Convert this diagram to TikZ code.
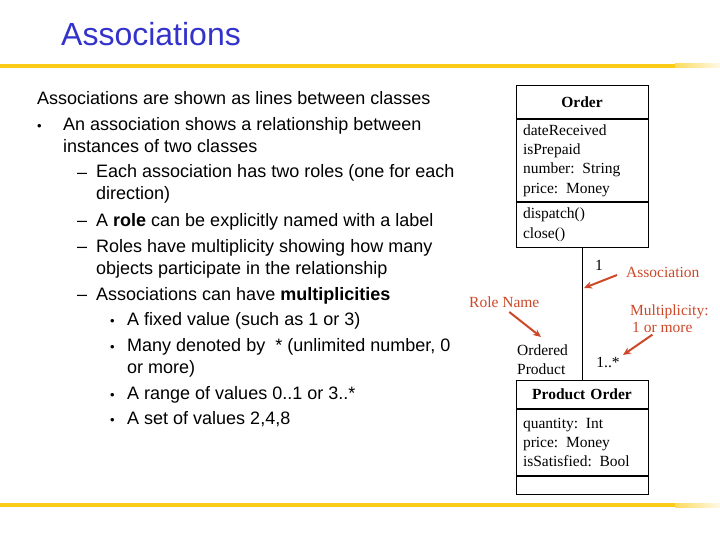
\documentclass[tikz,border=0pt]{standalone}
\usepackage{fontspec}
\setmainfont{Liberation Serif}
\newfontfamily\slidefont{Liberation Sans}
\usetikzlibrary{arrows.meta,positioning}

\definecolor{titleblue}{RGB}{51,51,204}
\definecolor{rulegold}{RGB}{250,204,24}
\definecolor{notered}{RGB}{204,72,40}

\tikzset{
  body/.style={anchor=base west, inner sep=0pt, align=left,
    font=\slidefont\fontsize{18}{22}\selectfont},
  mark1/.style={anchor=base west, inner sep=0pt, font=\slidefont\fontsize{13}{22}\selectfont},
  classpart/.style={draw, line width=0.9pt, anchor=north, minimum width=132pt,
    text width=118pt, inner xsep=7pt, inner ysep=0pt, align=left,
    font=\fontsize{15.5}{19.3}\selectfont},
  classname/.style={classpart, align=center, font=\bfseries\fontsize{15.5}{18}\selectfont},
  note/.style={anchor=west, inner sep=0pt, align=left, text=notered,
    font=\fontsize{15.5}{17}\selectfont},
  pointer/.style={->, notered, line width=2pt},
}

\begin{document}
\begin{tikzpicture}[x=1pt, y=-1pt, >={Stealth[length=8pt,width=7pt]}]
    \useasboundingbox (0,0) rectangle (720,540);

    % title and rules
    \node[anchor=base west, inner sep=0pt, text=titleblue,
          font=\slidefont\fontsize{32}{36}\selectfont] (title) at (61,46) {Associations};
    \fill[rulegold] (0,64) rectangle (675,68);
    \fill[left color=rulegold!70, right color=rulegold!10] (675,64) rectangle (720,68);
    \fill[rulegold] (0,503) rectangle (675,507);
    \fill[left color=rulegold!70, right color=rulegold!10] (675,503) rectangle (720,507);

    % left text (base = last line)
    \node[body] (lead) at (37,105) {Associations are shown as lines between classes};
    \node[mark1] (b1) at (37,131) {•};
    \node[body] (item1) at (63,153) {An association shows a relationship between\\instances of two classes};

    \node[body] (d1) at (77,179) {–};
    \node[body] (sub1) at (96,200) {Each association has two roles (one for each\\direction)};
    \node[body] (d2) at (77,226) {–};
    \node[body] (sub2) at (96,226) {A \textbf{role} can be explicitly named with a label};
    \node[body] (d3) at (77,252) {–};
    \node[body] (sub3) at (96,274) {Roles have multiplicity showing how many\\objects participate in the relationship};
    \node[body] (d4) at (77,300) {–};
    \node[body] (sub4) at (96,300) {Associations can have \textbf{multiplicities}};

    \node[mark1] (s1) at (110,325) {•};
    \node[body] (val1) at (127,325) {A fixed value (such as 1 or 3)};
    \node[mark1] (s2) at (110,351) {•};
    \node[body] (val2) at (127,373) {Many denoted by \ * (unlimited number, 0\\or more)};
    \node[mark1] (s3) at (110,399) {•};
    \node[body] (val3) at (127,399) {A range of values 0..1 or 3..*};
    \node[mark1] (s4) at (110,424) {•};
    \node[body] (val4) at (127,424) {A set of values 2,4,8};

    % class Order
    \node[classname, minimum height=33pt] (ordername) at (582,85) {Order};
    \node[classpart, minimum height=82pt] (orderattr) at (ordername.south)
        {dateReceived\\isPrepaid\\number: String\\price: Money};
    \node[classpart, minimum height=45pt] (ordermeth) at (orderattr.south)
        {dispatch()\\close()};

    % class Product Order
    \node[classname, minimum height=28pt] (prodname) at (582,380) {Product Order};
    \node[classpart, minimum height=66pt] (prodattr) at (prodname.south)
        {quantity: Int\\price: Money\\isSatisfied: Bool};
    \node[classpart, minimum height=18pt] (prodops) at (prodattr.south) {};

    % association
    \draw[line width=0.9pt] (ordermeth.south) -- (prodname.north);
    \node[inner sep=0pt, font=\fontsize{15.5}{17}\selectfont] (multone) at (599,265) {1};
    \node[inner sep=0pt, font=\fontsize{15.5}{17}\selectfont] (multmany) at (608,362) {1..*};
    \node[anchor=west, inner sep=0pt, align=left, font=\fontsize{15.5}{19}\selectfont]
        (rolename) at (517,360) {Ordered\\Product};

    % notes
    \node[note] (assoclbl) at (626,272) {Association};
    \node[note] (rolelbl) at (469,302) {Role Name};
    \node[note] (multlbl) at (630,318.5) {Multiplicity:\\\hspace*{2pt}1 or more};

    \coordinate (assoctip) at (584,288);
    \coordinate (roletip) at (541,337);
    \coordinate (multtip) at (623,355);
    \draw[pointer] ([shift={(-9,3)}]assoclbl.west) -- (assoctip);
    \draw[pointer] ([shift={(5,10)}]rolelbl.center) -- (roletip);
    \draw[pointer] ([shift={(-17,2)}]multlbl.south) -- (multtip);
\end{tikzpicture}
\end{document}
